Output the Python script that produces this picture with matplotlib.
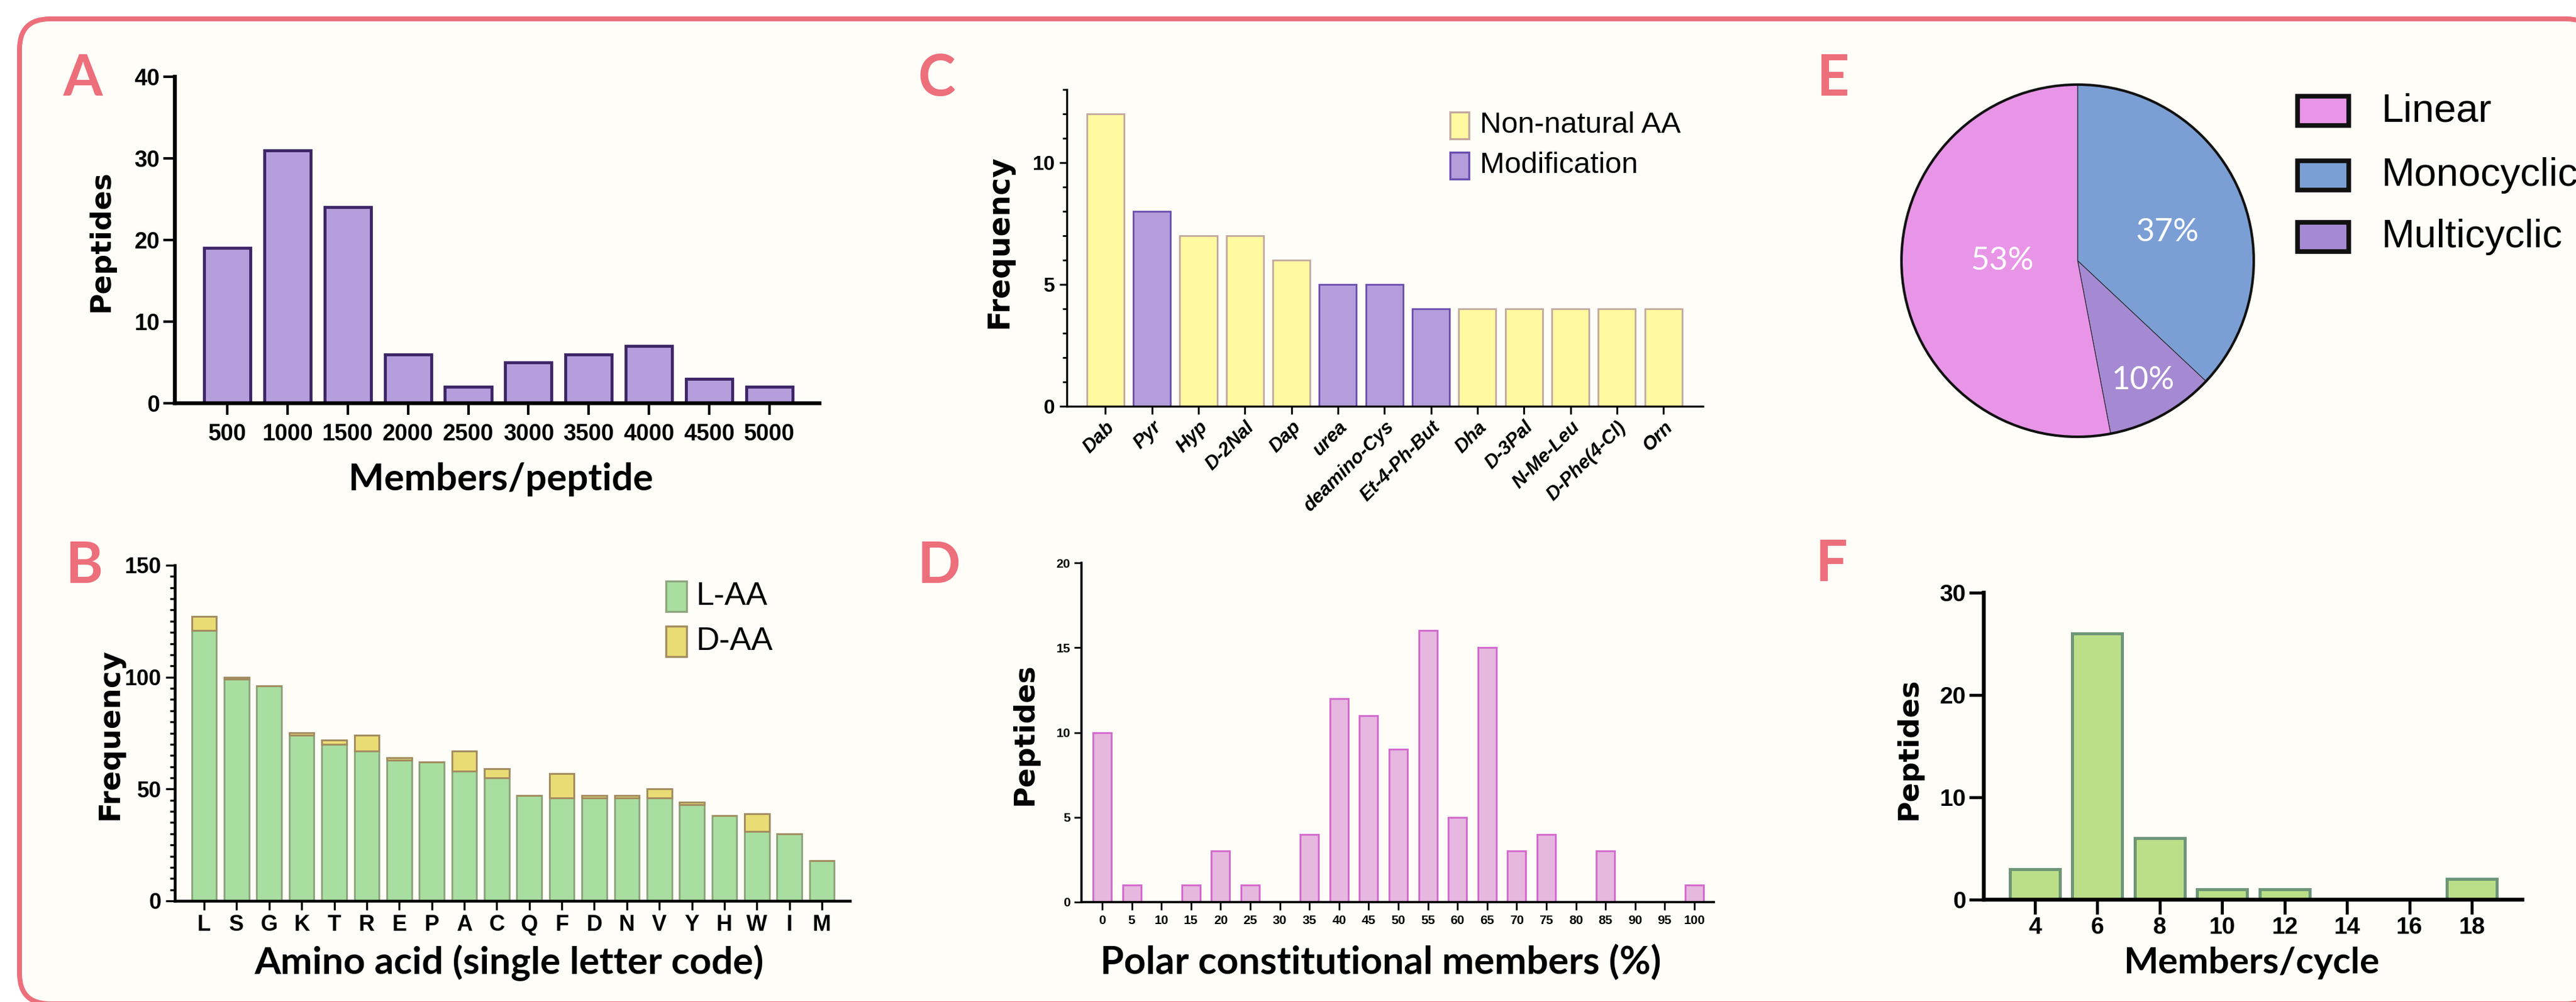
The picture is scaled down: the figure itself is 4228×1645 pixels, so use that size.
import numpy as np
import matplotlib.pyplot as plt
from matplotlib.patches import FancyBboxPatch, Rectangle, Circle

W, H, DPI = 4228, 1645, 100

plt.rcParams['font.family'] = ['Liberation Sans', 'DejaVu Sans']

# ---- data ----
member_bins = ['500', '1000', '1500', '2000', '2500', '3000', '3500', '4000', '4500', '5000']
member_counts = [19, 31, 24, 6, 2, 5, 6, 7, 3, 2]

aa_letters = ['L', 'S', 'G', 'K', 'T', 'R', 'E', 'P', 'A', 'C',
              'Q', 'F', 'D', 'N', 'V', 'Y', 'H', 'W', 'I', 'M']
l_aa = [121, 99, 96, 74, 70, 67, 63, 62, 58, 55, 47, 46, 46, 46, 46, 43, 38, 31, 30, 18]
d_aa = [6, 1, 0, 1, 2, 7, 1, 0, 9, 4, 0, 11, 1, 1, 4, 1, 0, 8, 0, 0]

mod_names = ['Dab', 'Pyr', 'Hyp', 'D-2Nal', 'Dap', 'urea', 'deamino-Cys', 'Et-4-Ph-But',
             'Dha', 'D-3Pal', 'N-Me-Leu', 'D-Phe(4-Cl)', 'Orn']
mod_freq = [12, 8, 7, 7, 6, 5, 5, 4, 4, 4, 4, 4, 4]
mod_kind = ['nn', 'mod', 'nn', 'nn', 'nn', 'mod', 'mod', 'mod', 'nn', 'nn', 'nn', 'nn', 'nn']

polar_pct = ['0', '5', '10', '15', '20', '25', '30', '35', '40', '45', '50',
             '55', '60', '65', '70', '75', '80', '85', '90', '95', '100']
polar_counts = [10, 1, 0, 1, 3, 1, 0, 4, 12, 11, 9, 16, 5, 15, 3, 4, 0, 3, 0, 0, 1]

topology = ['Linear', 'Monocyclic', 'Multicyclic']
topology_share = [53, 37, 10]

cycle_size = [4, 6, 8, 10, 12, 14, 16, 18]
cycle_counts = [3, 26, 6, 1, 1, 0, 0, 2]

PINK = '#EC6F7B'


def rect(x0, y0, x1, y1):
    # image pixel box -> figure fraction
    return [x0 / W, 1 - y1 / H, (x1 - x0) / W, (y1 - y0) / H]


def style(ax, lw, tlen, twid, fs, padx, pady):
    for s in ['top', 'right']:
        ax.spines[s].set_visible(False)
    for s in ['left', 'bottom']:
        ax.spines[s].set_linewidth(lw)
        ax.spines[s].set_capstyle('projecting')
    ax.tick_params(which='major', length=tlen, width=twid, labelsize=fs)
    ax.tick_params(axis='x', pad=padx)
    ax.tick_params(axis='y', pad=pady)
    for t in ax.get_xticklabels() + ax.get_yticklabels():
        t.set_fontweight('bold')


to_fit = []  # (text, target length in px)


def labels(ax, xl, xpos, xlen, yl, ypos, ylen):
    tr = bg.transData
    if xl:
        t = ax.set_xlabel(xl, family='Lato', fontweight='bold', fontsize=42, va='baseline')
        ax.xaxis.set_label_coords(xpos[0], xpos[1], transform=tr)
        to_fit.append((t, xlen, 'w'))
    t = ax.set_ylabel(yl, family='DejaVu Sans', fontweight='bold', fontsize=34,
                      va='center', ha='center')
    ax.yaxis.set_label_coords(ypos[0], ypos[1], transform=tr)
    to_fit.append((t, ylen, 'h'))


fig = plt.figure(figsize=(W / DPI, H / DPI), dpi=DPI, facecolor='white')

# background with rounded pink frame (pixel coordinates)
bg = fig.add_axes([0, 0, 1, 1], zorder=-1)
bg.set_xlim(0, W)
bg.set_ylim(H, 0)
bg.axis('off')
bg.add_patch(FancyBboxPatch((32, 31), 4230, 1617, boxstyle='round,pad=0,rounding_size=50',
                            facecolor='#FFFDF8', edgecolor=PINK, linewidth=5.8))

for letter, x, y in [('A', 136, 157), ('B', 138, 957), ('C', 1537, 157),
                     ('D', 1541, 957), ('E', 3008, 157), ('F', 3006, 954)]:
    bg.text(x, y, letter, family='Lato', fontweight='bold', fontsize=67,
            color=PINK, ha='center', va='baseline')

# ---- A ----
axA = fig.add_axes(rect(287, 126, 1345, 662), facecolor='none')
xa = np.arange(len(member_bins))
axA.bar(xa, member_counts, width=0.77, color='#B49FDC', edgecolor='#3D2567', linewidth=3.5)
axA.set_xlim(-0.87, 9.83)
axA.set_ylim(0, 40)
axA.set_yticks([0, 10, 20, 30, 40])
axA.set_xticks(xa, member_bins)
style(axA, 4.6, 14, 3, 27, 10, 4)
labels(axA, 'Members/peptide', (822, 805), 500, 'Peptides', (166, 396), 233)

# ---- B ----
axB = fig.add_axes(rect(287, 928, 1395, 1479), facecolor='none')
xb = np.arange(len(aa_letters))
axB.bar(xb, l_aa, width=0.76, color='#A8DEA0', edgecolor='#8FA57E', linewidth=2.2, label='L-AA')
axB.bar(xb, d_aa, bottom=l_aa, width=0.76, color='#EADC74', edgecolor='#A38D61',
        linewidth=2.2, label='D-AA')
axB.set_xlim(-0.9, 19.86)
axB.set_ylim(0, 150)
axB.set_yticks([0, 50, 100, 150])
axB.set_yticks(np.arange(0, 151, 5), minor=True)
axB.set_xticks(xb, aa_letters)
style(axB, 3.3, 11, 2.4, 26, 5, 5)
axB.tick_params(axis='y', which='minor', length=6, width=2.4)
labels(axB, 'Amino acid (single letter code)', (835, 1599), 837, 'Frequency', (180, 1205), 282)
for (lab, fc, ec), y0 in zip([('L-AA', '#A8DEA0', '#8FA57E'), ('D-AA', '#EADC74', '#A38D61')],
                             [954, 1028]):
    bg.add_patch(Rectangle((1093, y0), 34, 50, facecolor=fc, edgecolor=ec, linewidth=2.4))
    bg.text(1143, y0 + 25, lab, fontsize=38, ha='left', va='center')

# ---- C ----
axC = fig.add_axes(rect(1751, 147, 2795, 667), facecolor='none')
xc = np.arange(len(mod_names))
fills = {'nn': ('#FFF9A0', '#C2A89E'), 'mod': ('#B39DDB', '#6A4CB0')}
axC.bar(xc, mod_freq, width=0.8, color=[fills[k][0] for k in mod_kind],
        edgecolor=[fills[k][1] for k in mod_kind], linewidth=2)
axC.set_xlim(-0.83, 12.85)
axC.set_ylim(0, 13)
axC.set_yticks([0, 5, 10])
axC.set_yticks(np.arange(0, 14, 1), minor=True)
axC.set_xticks(xc, mod_names, rotation=45, ha='right', rotation_mode='anchor')
style(axC, 2.4, 9, 2.2, 24, 5, 5)
axC.tick_params(axis='y', which='minor', length=5, width=2)
for t in axC.get_xticklabels():
    t.set_fontsize(22.5)
    t.set_fontstyle('italic')
labels(axC, None, None, None, 'Frequency', (1639, 397), 285)
for (lab, k), y0 in zip([('Non-natural AA', 'nn'), ('Modification', 'mod')], [184, 250]):
    bg.add_patch(Rectangle((2380, y0), 31, 44, facecolor=fills[k][0], edgecolor=fills[k][1],
                           linewidth=2.4))
    bg.text(2429, y0 + 22, lab, fontsize=35, ha='left', va='center')

# ---- D ----
axD = fig.add_axes(rect(1775, 924, 2813, 1481), facecolor='none')
xd = np.arange(len(polar_pct))
axD.bar(xd, polar_counts, width=0.62, color='#E6B8E0', edgecolor='#D46BCE', linewidth=2.2)
axD.set_xlim(-0.7, 20.66)
axD.set_ylim(0, 20)
axD.set_yticks([0, 5, 10, 15, 20])
axD.set_xticks(xd, polar_pct)
style(axD, 2.6, 9, 2, 15, 6, 4)
labels(axD, 'Polar constitutional members (%)', (2266, 1599), 919, 'Peptides', (1682, 1205), 234)

# ---- E ----
axE = fig.add_axes(rect(3118, 136, 3702, 720))
order = [1, 2, 0]
pie_colors = {'Linear': '#E895E8', 'Monocyclic': '#7B9FD4', 'Multicyclic': '#A58AD3'}
axE.pie([topology_share[i] for i in order], colors=[pie_colors[topology[i]] for i in order],
        startangle=90, counterclock=False, radius=1,
        wedgeprops=dict(edgecolor='#222222', linewidth=0.8))
axE.add_patch(Circle((0, 0), 1, fill=False, edgecolor='#111111', linewidth=3))
axE.set_xlim(-1.01, 1.01)
axE.set_ylim(-1.01, 1.01)
for i, (px, py) in zip([0, 1, 2], [(-0.43, 0.0), (0.51, 0.16), (0.37, -0.68)]):
    axE.text(px, py, f'{topology_share[i]}%', family='Lato', fontsize=38, color='white',
             ha='center', va='center')
for lab, y0 in zip(topology, [158, 264, 365]):
    bg.add_patch(Rectangle((3771, y0), 84, 48, facecolor=pie_colors[lab], edgecolor='#111111',
                           linewidth=5.5))
    bg.text(3909, y0 + 24, lab, fontsize=47, ha='left', va='center')

# ---- F ----
axF = fig.add_axes(rect(3256, 973, 4140, 1477), facecolor='none')
axF.bar(cycle_size, cycle_counts, width=1.6, color='#BBDF88', edgecolor='#6E9678', linewidth=3.6)
axF.set_xlim(2.36, 19.62)
axF.set_ylim(0, 30)
axF.set_yticks([0, 10, 20, 30])
axF.set_xticks(cycle_size)
style(axF, 4.6, 17, 3.5, 28, 3, 4)
labels(axF, 'Members/cycle', (3695, 1598), 421, 'Peptides', (3133, 1229), 234)

# scale axis labels to the lengths measured on the original
fig.canvas.draw()
renderer = fig.canvas.get_renderer()
for t, target, dim in to_fit:
    bb = t.get_window_extent(renderer)
    cur = bb.width if dim == 'w' else bb.height
    t.set_fontsize(t.get_fontsize() * target / cur)

fig.savefig('out.png', dpi=DPI, facecolor='white')
